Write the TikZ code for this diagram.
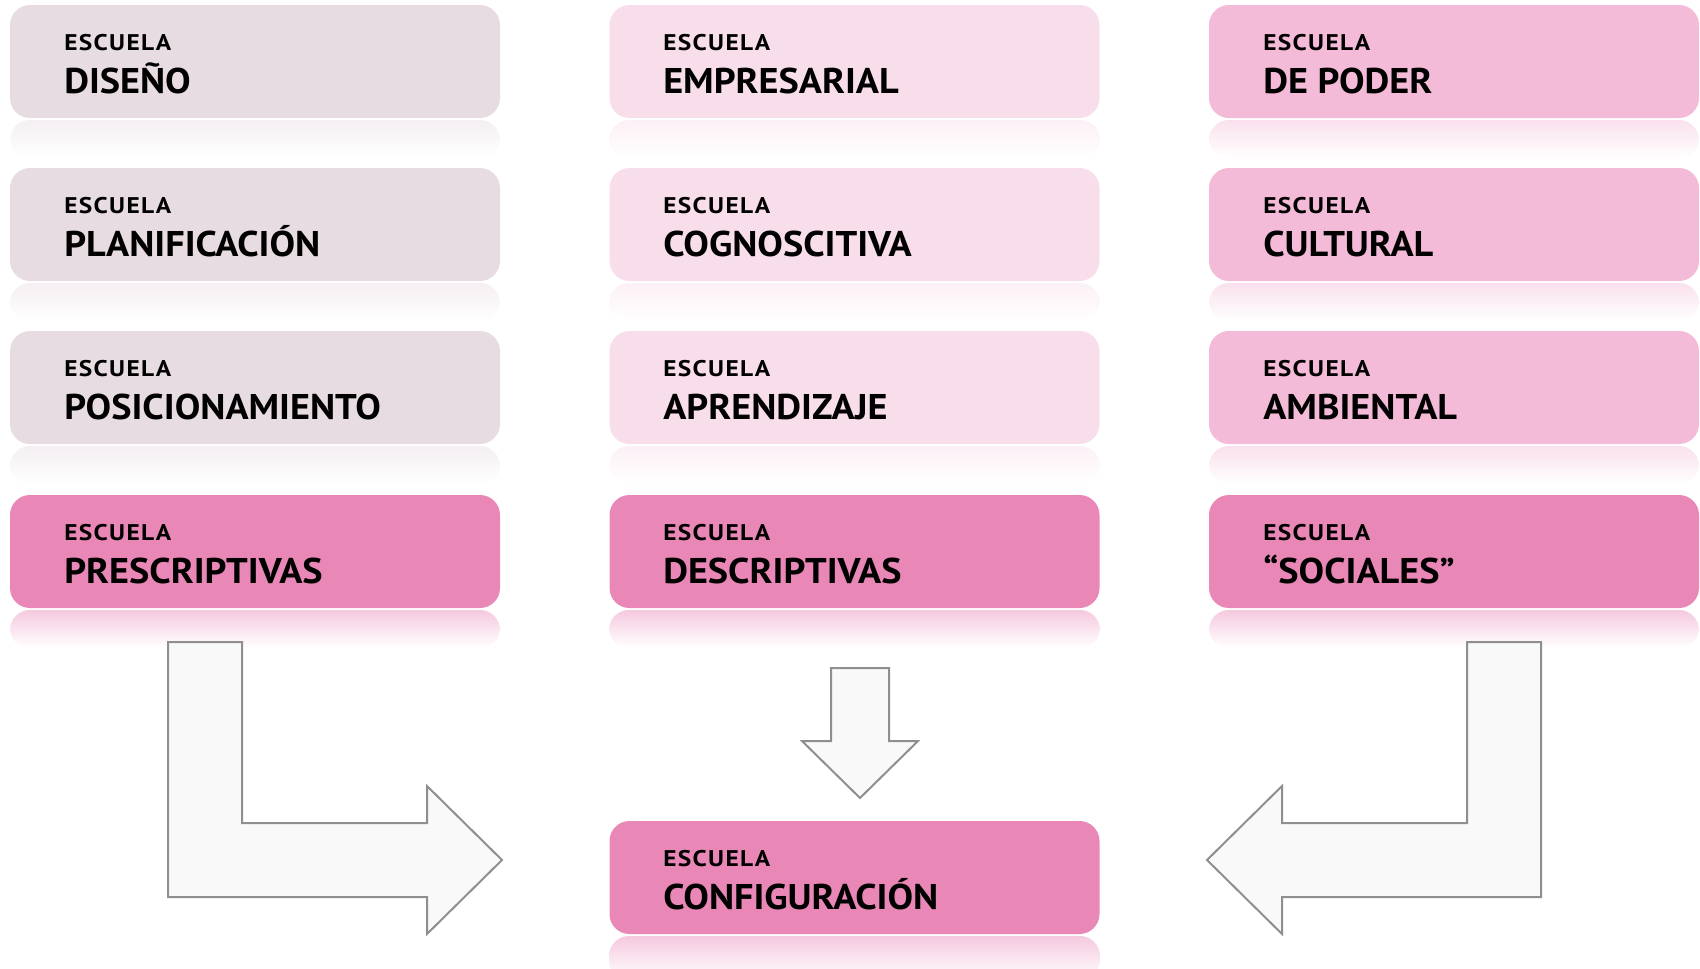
\documentclass[tikz,border=0pt]{standalone}
\usepackage{fontspec}
\setmainfont{PT Sans}
\newfontfamily\bigfont[FakeStretch=1.07]{PT Sans}
\newfontfamily\smallfont[FakeStretch=1.12,LetterSpace=6]{PT Sans}
\definecolor{colDis}{HTML}{E8DCE3}
\definecolor{colEmp}{HTML}{F8DEEA}
\definecolor{colPod}{HTML}{F3BBD7}
\definecolor{colDark}{HTML}{E987B7}
\definecolor{arrowline}{HTML}{8F8F8F}
\definecolor{arrowfill}{HTML}{F9F9F9}
\tikzset{
  box/.style={rectangle, rounded corners=15pt, minimum width=367.5pt, minimum height=84.75pt, inner sep=0pt},
  refl/.style={rounded corners=15pt, bottom color=white},
  small/.style={anchor=base west, inner sep=0pt, font=\smallfont\bfseries\fontsize{17}{17}\selectfont},
  big/.style={anchor=base west, inner sep=0pt, font=\bigfont\bfseries\fontsize{26.8}{27}\selectfont},
  blockarrow/.style={draw=arrowline, fill=arrowfill, line width=1.5pt, line join=miter},
}
\begin{document}
\begin{tikzpicture}[x=0.75pt,y=0.75pt,yscale=-1,xscale=1]
\useasboundingbox (0,0) rectangle (1700,968);

% Reflections
\shade[refl, top color=colDis!45!white] (10,120) rectangle (500,158);
\shade[refl, top color=colDis!45!white] (10,283) rectangle (500,321);
\shade[refl, top color=colDis!45!white] (10,446) rectangle (500,484);
\shade[refl, top color=colDark!45!white] (10,610) rectangle (500,648);
\shade[refl, top color=colEmp!45!white] (609,120) rectangle (1100,158);
\shade[refl, top color=colEmp!45!white] (609,283) rectangle (1100,321);
\shade[refl, top color=colEmp!45!white] (609,446) rectangle (1100,484);
\shade[refl, top color=colDark!45!white] (609,610) rectangle (1100,648);
\shade[refl, top color=colPod!45!white] (1209,120) rectangle (1699,158);
\shade[refl, top color=colPod!45!white] (1209,283) rectangle (1699,321);
\shade[refl, top color=colPod!45!white] (1209,446) rectangle (1699,484);
\shade[refl, top color=colDark!45!white] (1209,610) rectangle (1699,648);
\shade[refl, top color=colDark!45!white] (609,936) rectangle (1100,980);

% Boxes
\node[box, fill=colDis] (dis) at (255,61.5) {};
\node[box, fill=colDis] (pla) at (255,224.5) {};
\node[box, fill=colDis] (pos) at (255,387.5) {};
\node[box, fill=colDark] (pre) at (255,551.5) {};
\node[box, fill=colEmp] (emp) at (854.5,61.5) {};
\node[box, fill=colEmp] (cog) at (854.5,224.5) {};
\node[box, fill=colEmp] (apr) at (854.5,387.5) {};
\node[box, fill=colDark] (des) at (854.5,551.5) {};
\node[box, fill=colPod] (pod) at (1454,61.5) {};
\node[box, fill=colPod] (cul) at (1454,224.5) {};
\node[box, fill=colPod] (amb) at (1454,387.5) {};
\node[box, fill=colDark] (soc) at (1454,551.5) {};
\node[box, fill=colDark] (con) at (854.5,877.5) {};

% Text Nodes
\node[small] (dis-a) at (64,50) {ESCUELA};
\node[big] (dis-b) at (64,93) {DISEÑO};
\node[small] (pla-a) at (64,213) {ESCUELA};
\node[big] (pla-b) at (64,256) {PLANIFICACIÓN};
\node[small] (pos-a) at (64,376) {ESCUELA};
\node[big] (pos-b) at (64,419) {POSICIONAMIENTO};
\node[small] (pre-a) at (64,540) {ESCUELA};
\node[big] (pre-b) at (64,583) {PRESCRIPTIVAS};
\node[small] (emp-a) at (663,50) {ESCUELA};
\node[big] (emp-b) at (663,93) {EMPRESARIAL};
\node[small] (cog-a) at (663,213) {ESCUELA};
\node[big] (cog-b) at (663,256) {COGNOSCITIVA};
\node[small] (apr-a) at (663,376) {ESCUELA};
\node[big] (apr-b) at (663,419) {APRENDIZAJE};
\node[small] (des-a) at (663,540) {ESCUELA};
\node[big] (des-b) at (663,583) {DESCRIPTIVAS};
\node[small] (pod-a) at (1263,50) {ESCUELA};
\node[big] (pod-b) at (1263,93) {DE PODER};
\node[small] (cul-a) at (1263,213) {ESCUELA};
\node[big] (cul-b) at (1263,256) {CULTURAL};
\node[small] (amb-a) at (1263,376) {ESCUELA};
\node[big] (amb-b) at (1263,419) {AMBIENTAL};
\node[small] (soc-a) at (1263,540) {ESCUELA};
\node[big] (soc-b) at (1263,583) {“SOCIALES”};
\node[small] (con-a) at (663,866) {ESCUELA};
\node[big] (con-b) at (663,909) {CONFIGURACIÓN};

% Shape: Bent Arrow (left)
\draw[blockarrow] (168,642) -- (242,642) -- (242,823) -- (427,823) -- (427,786) -- (502,860) -- (427,934) -- (427,897) -- (168,897) -- cycle;
% Shape: Down Arrow
\draw[blockarrow] (831,668) -- (889,668) -- (889,741) -- (918,741) -- (860,798) -- (802,741) -- (831,741) -- cycle;
% Shape: Bent Arrow (right)
\draw[blockarrow] (1541,642) -- (1467,642) -- (1467,823) -- (1282,823) -- (1282,786) -- (1207,860) -- (1282,934) -- (1282,897) -- (1541,897) -- cycle;

\end{tikzpicture}
\end{document}
